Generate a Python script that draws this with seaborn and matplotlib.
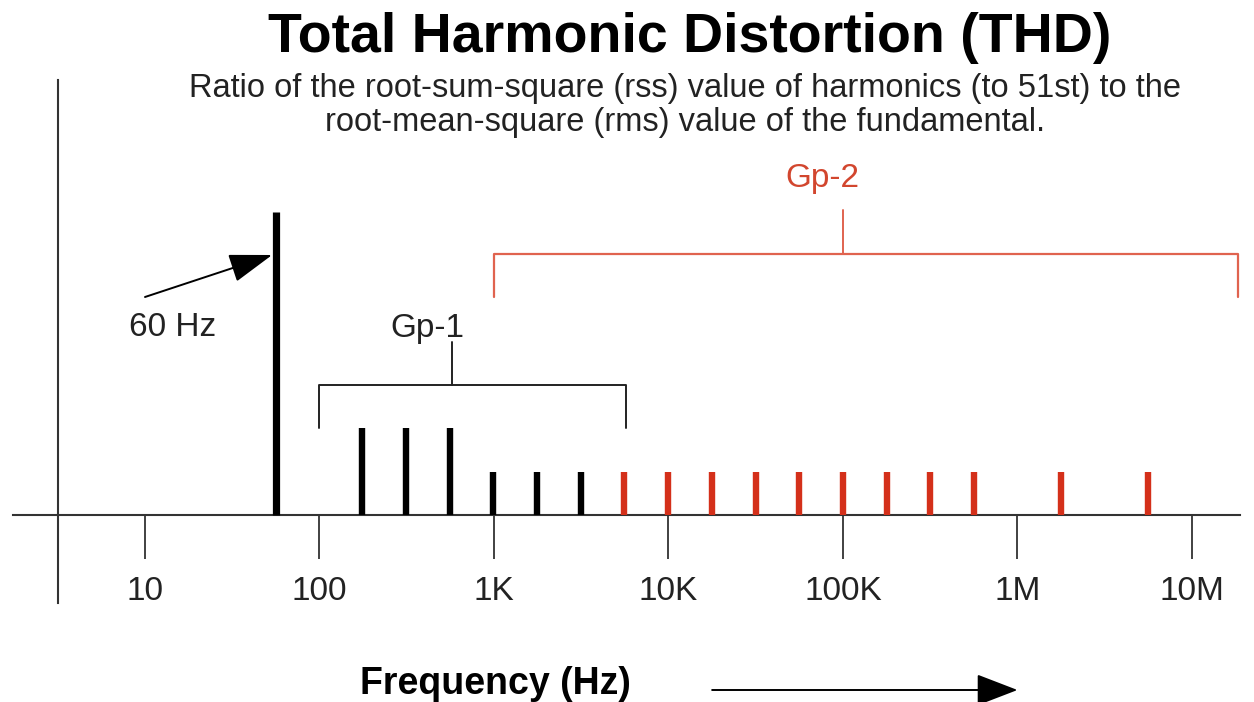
import numpy as np
import pandas as pd
import matplotlib
matplotlib.use("Agg")
import matplotlib.pyplot as plt
import seaborn as sns

# Veri: harmonik frekanslari (Hz) ve genlikleri (goreli birim)
fund_freq = [56]
fund_amp = [303]
gp1_tall_freq = [175, 315, 560]
gp1_tall_amp = [87, 87, 87]
gp1_short_freq = [990, 1760, 3150]
gp1_short_amp = [43, 43, 43]
gp2_freq = [5560, 9900, 17700, 31700, 56000, 100000, 178000, 315000, 564000, 1770000, 5600000]
gp2_amp = [43] * 11
tick_vals = [10, 100, 1e3, 1e4, 1e5, 1e6, 1e7]
tick_labels = ["10", "100", "1K", "10K", "100K", "1M", "10M"]

sns.set_theme(style="white")
plt.rcParams["font.family"] = ["Liberation Sans", "DejaVu Sans"]

RED = "#d4301a"
RED_LIGHT = "#e0634f"
DARK = "#222222"

fig = plt.figure(figsize=(12.54, 7.02), dpi=100)
ax = fig.add_axes([0, 0, 1, 1])
ax.set_xscale("log")
ax.set_xlim(10 ** 0.1691, 10 ** 7.3553)
ax.set_ylim(-187, 515)
ax.patch.set_alpha(0)

# Cubuklar
bars = pd.DataFrame({
    "freq": fund_freq + gp1_tall_freq + gp1_short_freq + gp2_freq,
    "amp": fund_amp + gp1_tall_amp + gp1_short_amp + gp2_amp,
    "grp": ["f"] + ["g1"] * 6 + ["g2"] * len(gp2_freq),
})
for grp, col, lw in [("f", "black", 5.2), ("g1", "black", 4.6), ("g2", RED, 4.6)]:
    d = bars[bars["grp"] == grp]
    ax.vlines(d["freq"], 0, d["amp"], color=col, lw=lw, zorder=3)

# Eksenler
sns.despine(ax=ax, top=True, right=True)
ax.spines["bottom"].set_position(("data", 0))
ax.spines["bottom"].set_bounds(10 ** 0.2436, 10 ** 7.275)
ax.spines["left"].set_position(("data", 10 ** 0.5014))
ax.spines["left"].set_bounds(-88, 435)
for s in ["bottom", "left"]:
    ax.spines[s].set_color("#333333")
    ax.spines[s].set_linewidth(1.5)
    ax.spines[s].set_zorder(2)

ax.set_xticks(tick_vals)
ax.set_xticklabels(tick_labels)
ax.minorticks_off()
ax.tick_params(axis="x", direction="out", length=32, width=1.3, color="#333333",
               pad=12, labelsize=24, labelcolor="#222222", bottom=True)
ax.set_yticks([])

# Gp-1 parantezi
ax.plot([100, 100, 5700, 5700], [87, 130, 130, 87], color=DARK, lw=1.4)
ax.plot([574, 574], [130, 173], color=DARK, lw=1.4)
ax.text(413, 187, "Gp-1", ha="center", va="center", fontsize=24, color="#222222")

# Gp-2 parantezi
ax.plot([1000, 1000, 1.84e7, 1.84e7], [218, 261, 261, 218], color=RED_LIGHT, lw=1.6)
ax.plot([1e5, 1e5], [261, 305], color=RED_LIGHT, lw=1.4)
ax.text(7.6e4, 337, "Gp-2", ha="center", va="center", fontsize=24, color="#d2462e")

# 60 Hz oku
ax.annotate("", xy=(53.5, 260), xytext=(10, 218),
            arrowprops=dict(arrowstyle="-|>,head_length=1.35,head_width=0.45",
                            mutation_scale=20, color="black", lw=1.4,
                            shrinkA=0, shrinkB=0))
ax.text(14.3, 188, "60 Hz", ha="center", va="center", fontsize=24, color="#222222")

# Frekans etiketi ve ok
ax.text(10 ** 3.006, 515 - 694, "Frequency (Hz)", ha="center", va="baseline",
        fontsize=27, fontweight="bold", color="black")
ax.annotate("", xy=(10 ** 6.0, -175), xytext=(10 ** 4.25, -175),
            arrowprops=dict(arrowstyle="-|>,head_length=1.3,head_width=0.5",
                            mutation_scale=20, color="black", lw=1.4,
                            shrinkA=0, shrinkB=0))

# Baslik
fig.text(690 / 1254, 1 - 52 / 702, "Total Harmonic Distortion (THD)",
         ha="center", va="baseline", fontsize=40, fontweight="bold", color="black")
fig.text(685 / 1254, 1 - 97 / 702,
         "Ratio of the root-sum-square (rss) value of harmonics (to 51st) to the",
         ha="center", va="baseline", fontsize=23.5, color="#222222")
fig.text(685 / 1254, 1 - 131 / 702,
         "root-mean-square (rms) value of the fundamental.",
         ha="center", va="baseline", fontsize=23.5, color="#222222")

fig.savefig("out.png", dpi=100)
